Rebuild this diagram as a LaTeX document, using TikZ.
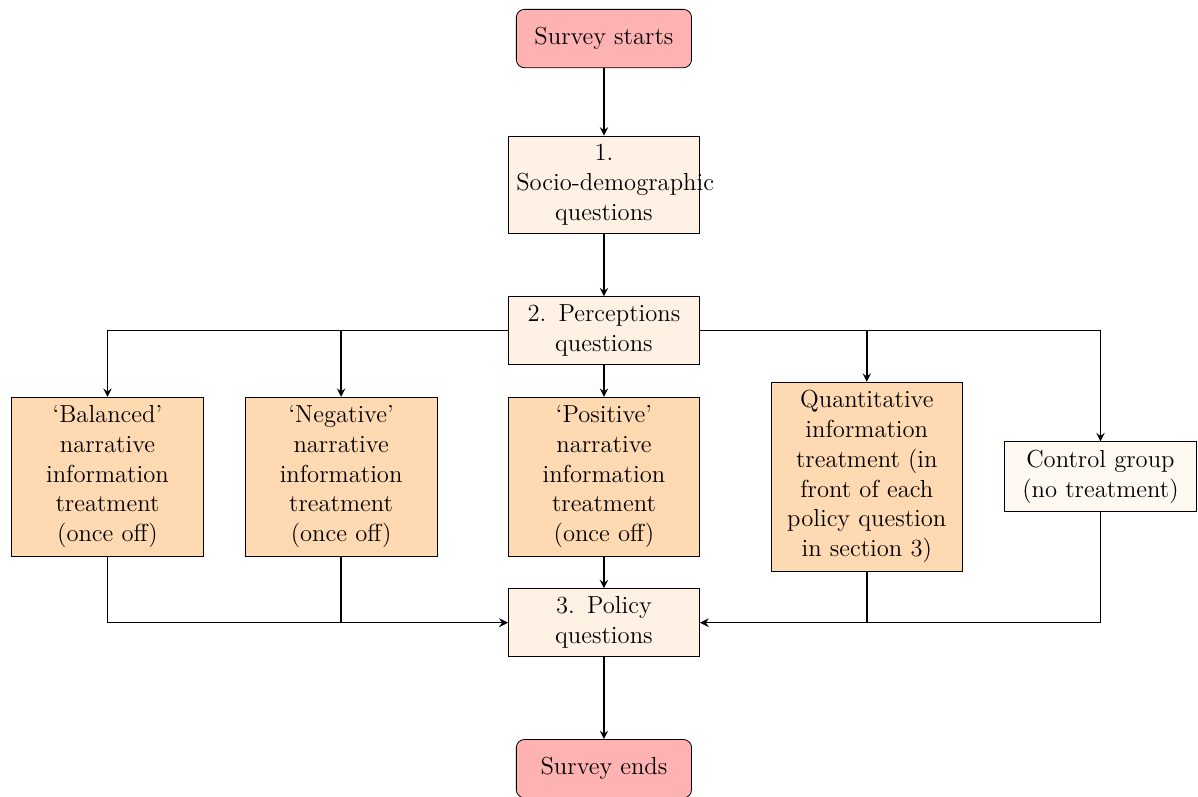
\documentclass[tikz,border=0pt,12pt]{standalone}
\usepackage{amssymb}
\usepackage{tikz}
\usetikzlibrary{arrows}

\tikzset{
    startstop/.style={rectangle, rounded corners, minimum width=3cm, minimum height=1cm, text centered, draw=black, fill=red!30},
    question/.style={rectangle, minimum width=3cm, minimum height=1cm, text centered, text width=3cm, draw=black, fill=orange!10},
    treatment/.style={question, fill=orange!30},
    controlbox/.style={question, fill=orange!5},
    arrow/.style={thick, ->, >=stealth}
}

\begin{document}
\begin{tikzpicture}
            \useasboundingbox (-10.34,0.66) rectangle (10.17,-12.97);

            \node[startstop] (start) at (0,0) {Survey starts};
            \node[question] (socio) at (0,-2.5) {1. \mbox{Socio-demographic} questions};
            \node[question] (percep) at (0,-5) {2. Perceptions questions};
            \node[treatment] (balanced) at (-8.5,-7.5) {`Balanced' narrative information treatment (once off)};
            \node[treatment] (negative) at (-4.5,-7.5) {`Negative' narrative information treatment (once off)};
            \node[treatment] (positive) at (0,-7.5) {`Positive' narrative information treatment (once off)};
            \node[treatment] (quant) at (4.5,-7.5) {Quantitative information treatment (in front of each policy question in section 3)};
            \node[controlbox] (control) at (8.5,-7.5) {Control group (no treatment)};
            \node[question] (policy) at (0,-10) {3. Policy questions};
            \node[startstop] (stop) at (0,-12.5) {Survey ends};

            \draw[arrow] (start) -- (socio);
            \draw[arrow] (socio) -- (percep);
            \draw[arrow] (percep) -- (positive);
            \draw[arrow] (percep) -| (balanced);
            \draw[arrow] (percep) -| (negative);
            \draw[arrow] (percep) -| (quant);
            \draw[arrow] (percep) -| (control);
            \draw[arrow] (positive) -- (policy);
            \draw[arrow] (balanced) |- (policy);
            \draw[arrow] (negative) |- (policy);
            \draw[arrow] (quant) |- (policy);
            \draw[arrow] (control) |- (policy);
            \draw[arrow] (policy) -- (stop);
        \end{tikzpicture}
\end{document}
